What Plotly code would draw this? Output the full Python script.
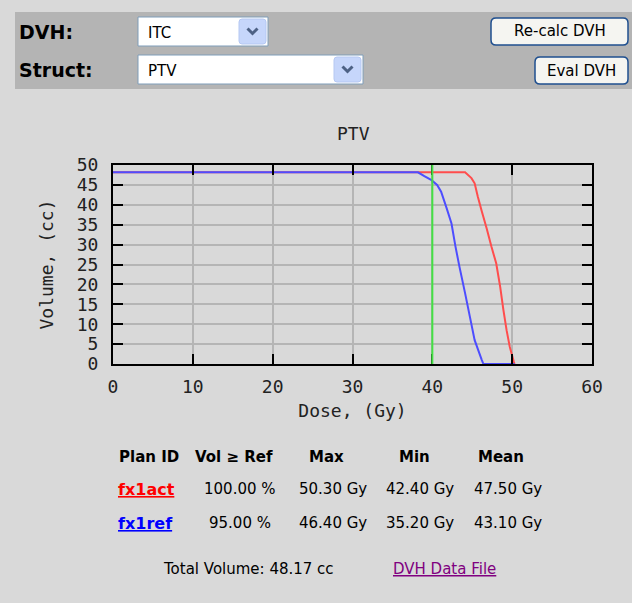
import plotly.graph_objects as go

# ---------------- data ----------------
dose_act = [0, 44.1, 44.9, 45.3, 45.7, 46.2, 46.8, 47.4, 48.0, 48.5, 48.9, 49.3, 49.7, 50.2, 50.3]
vol_act = [48.17, 48.17, 46.7, 45.4, 42.0, 38.3, 34.1, 29.5, 25.3, 19.4, 13.6, 8.5, 4.3, 0.6, 0]

dose_ref = [0, 38.2, 39.0, 39.9, 40.6, 41.1, 41.8, 42.4, 42.9, 43.4, 44.1, 44.7, 45.3, 46.2, 46.4, 50.3]
vol_ref = [48.17, 48.17, 47.2, 46.2, 45.0, 43.3, 39.1, 35.3, 29.5, 24.4, 17.8, 11.9, 6.0, 1.0, 0, 0]

ref_dose = 40
structure = "PTV"
dvh_type = "ITC"

plan_ids = ["fx1act", "fx1ref"]
plan_colors = ["#ff0000", "#0000ff"]
vol_ge_ref = ["100.00 %", "95.00 %"]
max_dose = ["50.30 Gy", "46.40 Gy"]
min_dose = ["42.40 Gy", "35.20 Gy"]
mean_dose = ["47.50 Gy", "43.10 Gy"]
headers = ["Plan ID", "Vol \u2265 Ref", "Max", "Min", "Mean"]
total_volume = "Total Volume: 48.17 cc"

x_ticks = [0, 10, 20, 30, 40, 50, 60]
y_ticks = [0, 5, 10, 15, 20, 25, 30, 35, 40, 45, 50]

# ---------------- layout geometry (pixels) ----------------
W_FIG, H_FIG = 632, 603
L, R, T, B = 113, 592, 165, 364
PW, PH = R - L, B - T


def px(p):
    return (p - L) / PW


def py(p):
    return (B - p) / PH


MONO = "DejaVu Sans Mono"
SANS = "DejaVu Sans"

fig = go.Figure()
fig.add_trace(go.Scatter(x=dose_act, y=vol_act, mode="lines",
                         line=dict(color="#ff4d4d", width=2, simplify=False), hoverinfo="skip"))
fig.add_trace(go.Scatter(x=dose_ref, y=vol_ref, mode="lines",
                         line=dict(color="#4d4dff", width=2, simplify=False), hoverinfo="skip"))

shapes = []
annotations = []

# reference dose line
shapes.append(dict(type="line", xref="x", yref="paper", x0=ref_dose, x1=ref_dose,
                   y0=0, y1=1, line=dict(color="#44e044", width=2), layer="above"))

# top control panel
shapes.append(dict(type="rect", xref="paper", yref="paper", x0=px(15), x1=px(632),
                   y0=py(89), y1=py(12), fillcolor="#b4b4b4", line=dict(width=0), layer="below"))


def rounded(x0, y0, x1, y1, r):
    return (f"M {px(x0 + r)},{py(y0)} L {px(x1 - r)},{py(y0)} "
            f"Q {px(x1)},{py(y0)} {px(x1)},{py(y0 + r)} "
            f"L {px(x1)},{py(y1 - r)} Q {px(x1)},{py(y1)} {px(x1 - r)},{py(y1)} "
            f"L {px(x0 + r)},{py(y1)} Q {px(x0)},{py(y1)} {px(x0)},{py(y1 - r)} "
            f"L {px(x0)},{py(y0 + r)} Q {px(x0)},{py(y0)} {px(x0 + r)},{py(y0)} Z")


def dropdown(x0, y0, x1, y1, label):
    shapes.append(dict(type="rect", xref="paper", yref="paper", x0=px(x0), x1=px(x1),
                       y0=py(y1), y1=py(y0), fillcolor="white",
                       line=dict(color="#7f9db9", width=1)))
    ax0, ax1 = x1 - 29, x1 - 2
    shapes.append(dict(type="path", xref="paper", yref="paper",
                       path=rounded(ax0, y0 + 2, ax1, y1 - 2, 3),
                       fillcolor="#c6d6fb", line=dict(color="#b5c8f2", width=1)))
    cx, cy = (ax0 + ax1) / 2, (y0 + y1) / 2
    shapes.append(dict(type="path", xref="paper", yref="paper",
                       path=f"M {px(cx - 5)},{py(cy - 3)} L {px(cx)},{py(cy + 2)} L {px(cx + 5)},{py(cy - 3)}",
                       line=dict(color="#4d6185", width=3)))
    annotations.append(dict(xref="paper", yref="paper", x=px(x0 + 8), y=py(cy + 1),
                            xanchor="left", yanchor="middle", text=label, showarrow=False,
                            font=dict(family=SANS, size=15, color="black")))


def button(x0, y0, x1, y1, label):
    shapes.append(dict(type="path", xref="paper", yref="paper",
                       path=rounded(x0, y0, x1, y1, 5),
                       fillcolor="#f5f5f1", line=dict(color="#1f4f8f", width=1.5)))
    annotations.append(dict(xref="paper", yref="paper", x=px((x0 + x1) / 2), y=py((y0 + y1) / 2),
                            xanchor="center", yanchor="middle", text=label, showarrow=False,
                            font=dict(family=SANS, size=15, color="black")))


annotations.append(dict(xref="paper", yref="paper", x=px(17), y=py(32), xanchor="left",
                        yanchor="middle", text="<b>DVH:</b>", showarrow=False,
                        font=dict(family=SANS, size=19, color="black")))
annotations.append(dict(xref="paper", yref="paper", x=px(17), y=py(70), xanchor="left",
                        yanchor="middle", text="<b>Struct:</b>", showarrow=False,
                        font=dict(family=SANS, size=19, color="black")))
dropdown(138, 17, 268, 46, dvh_type)
dropdown(138, 55, 363, 84, structure)
button(491, 18, 628, 45, "Re-calc DVH")
button(535, 57, 628, 84, "Eval DVH")

# chart title
annotations.append(dict(xref="paper", yref="paper", x=px(353), y=py(133), xanchor="center",
                        yanchor="middle", text=structure, showarrow=False,
                        font=dict(family=MONO, size=18, color="#222222")))

# table
col_centers = [149, 234, 326, 414, 501]
for h, cx in zip(headers, col_centers):
    annotations.append(dict(xref="paper", yref="paper", x=px(cx), y=py(457), xanchor="center",
                            yanchor="middle", text=f"<b>{h}</b>", showarrow=False,
                            font=dict(family=SANS, size=15, color="black")))
row_y = [489, 523]
for i in range(len(plan_ids)):
    annotations.append(dict(xref="paper", yref="paper", x=px(116), y=py(row_y[i]), xanchor="left",
                            yanchor="middle", text=f"<b>{plan_ids[i]}</b>", showarrow=False,
                            font=dict(family=SANS, size=16, color=plan_colors[i], lineposition="under")))
    vals = [vol_ge_ref[i], max_dose[i], min_dose[i], mean_dose[i]]
    for v, cx in zip(vals, [240, 333, 420, 508]):
        annotations.append(dict(xref="paper", yref="paper", x=px(cx), y=py(row_y[i]),
                                xanchor="center", yanchor="middle", text=v, showarrow=False,
                                font=dict(family=SANS, size=15, color="black")))

annotations.append(dict(xref="paper", yref="paper", x=px(248), y=py(569), xanchor="center",
                        yanchor="middle", text=total_volume, showarrow=False,
                        font=dict(family=SANS, size=15, color="black")))
annotations.append(dict(xref="paper", yref="paper", x=px(444), y=py(569), xanchor="center",
                        yanchor="middle", text="DVH Data File", showarrow=False,
                        font=dict(family=SANS, size=15, color="#800080", lineposition="under")))

axis_common = dict(showline=True, linecolor="black", linewidth=2, mirror="ticks",
                   ticks="inside", ticklen=10, tickwidth=2, tickcolor="black",
                   showgrid=True, gridcolor="#b5b5b5", gridwidth=1.5, zeroline=False,
                   tickfont=dict(family=MONO, size=18, color="#222222"),
                   fixedrange=True)

fig.update_layout(
    width=W_FIG, height=H_FIG,
    margin=dict(l=L, r=W_FIG - R, t=T, b=H_FIG - B, pad=0),
    paper_bgcolor="#d9d9d9", plot_bgcolor="#d9d9d9",
    showlegend=False,
    shapes=shapes, annotations=annotations,
    xaxis=dict(range=[0, 60], tickvals=x_ticks, ticklabelstandoff=5,
               title=dict(text="Dose, (Gy)", standoff=9,
                          font=dict(family=MONO, size=18, color="#222222")),
               **axis_common),
    yaxis=dict(range=[0, 50], tickvals=y_ticks, ticklabelstandoff=9,
               title=dict(text="Volume, (cc)", standoff=18,
                          font=dict(family=MONO, size=18, color="#222222")),
               **axis_common),
)

fig.write_html("out.html", config={"displayModeBar": False},
               post_script="document.body.style.margin='0';document.body.style.padding='0';"
                           "document.body.style.background='#d9d9d9';")
